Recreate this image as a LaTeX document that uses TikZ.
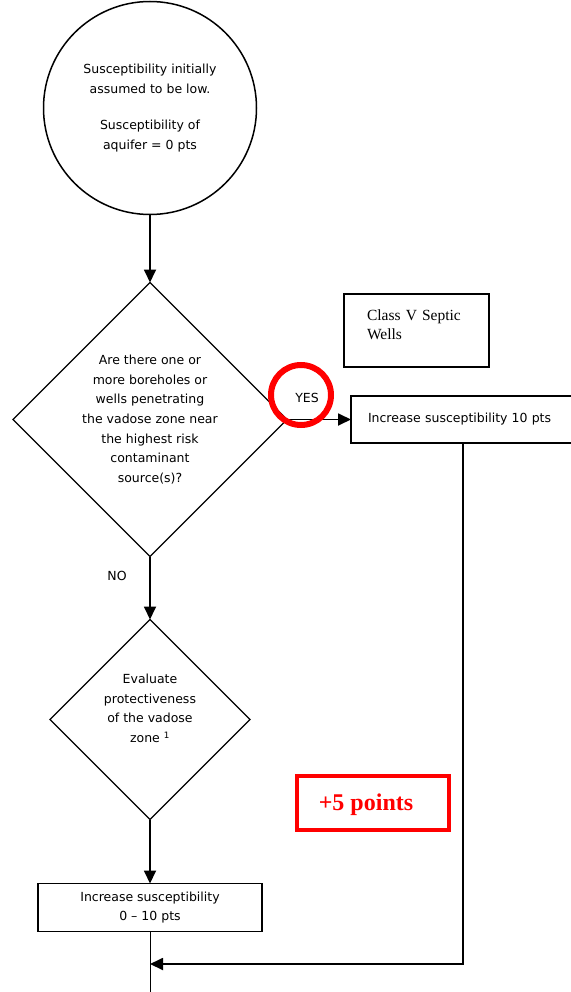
\documentclass[tikz,border=0pt]{standalone}
\usepackage{fontspec}
\setmainfont{DejaVu Sans}
\newfontfamily\timesface{Liberation Serif}
\usepackage{xcolor}
\usepackage{tikz}
\usetikzlibrary{shapes.geometric, arrows.meta, positioning}

\tikzset{
  flowline/.style={line width=1.8pt, -{Triangle[length=13pt, width=12pt]}},
  decision/.style={diamond, draw, line width=1.3pt, aspect=1, inner sep=0pt, outer sep=0pt},
  stepbox/.style={rectangle, draw, line width=1.8pt, outer sep=0pt, minimum height=47pt},
  plain/.style={font=\fontsize{12.5}{19.6}\selectfont, align=center, inner sep=0pt},
}

\begin{document}
\begin{tikzpicture}[x=1pt, y=-1pt, node distance=60pt, font=\fontsize{12.5}{19.6}\selectfont]
    \useasboundingbox (0,0) rectangle (570,992);
    % Nodes
    \node (start) [circle, draw, line width=1.5pt, outer sep=0pt, minimum size=213pt, align=center] at (150,108)
        {Susceptibility initially\\assumed to be low.\\[17pt]Susceptibility of\\aquifer = 0 pts};
    \node (question) [decision, minimum width=274pt, minimum height=274pt, below=68pt of start] {};
    \node (questiontext) [plain] at (question.center)
        {Are there one or\\more boreholes or\\wells penetrating\\the vadose zone near\\the highest risk\\contaminant\\source(s)?};
    \node (evaluate) [decision, minimum width=200pt, minimum height=200pt, below=63pt of question] {};
    \node (evaluatetext) [plain, yshift=11pt] at (evaluate.center)
        {Evaluate\\protectiveness\\of the vadose\\zone \textsuperscript{1}};
    \node (zerototen) [stepbox, minimum width=224pt, minimum height=48pt, align=center,
        font=\fontsize{12.5}{18.5}\selectfont, below=64pt of evaluate]
        {Increase susceptibility\\0 -- 10 pts};
    \node (tenpts) [stepbox, anchor=west, text width=190pt, inner xsep=17pt, align=left] at (351,419.5)
        {Increase susceptibility 10 pts};
    \node (classv) [rectangle, draw, line width=1.5pt, minimum height=73pt, text width=99pt, inner xsep=23pt,
        text depth=31pt, align=left, font=\timesface\fontsize{15.5}{19.5}\selectfont] at (416.5,330.5)
        {Class V Septic\\Wells};
    \node (bonus) [rectangle, draw=red, line width=4pt, minimum width=152pt, minimum height=54pt, text=red,
        text depth=2pt, font=\timesface\bfseries\fontsize{24}{28}\selectfont] at (373,803)
        {+5 points\kern14pt};
    \node (nolabel) [plain] at (117,576) {NO};
    \coordinate (bend) at (463,964);
    \coordinate (exit) at (150,992);
    % Arrows
    \draw[flowline] (start.south) -- (question.north);
    \draw[flowline] (question.east) -- (tenpts.west);
    \draw[flowline] (question.south) -- (evaluate.north);
    \draw[flowline] (evaluate.south) -- (zerototen.north);
    \draw[line width=1pt] (zerototen.south) -- (exit);
    \draw[flowline] (tenpts.south -| bend) -- (bend) -- (zerototen.south |- bend);
    % Marker round YES
    \node (yesring) [circle, draw=red, line width=6pt, minimum size=60pt] at (301,395) {};
    \node (yes) [plain] at (307,398) {YES};
\end{tikzpicture}
\end{document}
